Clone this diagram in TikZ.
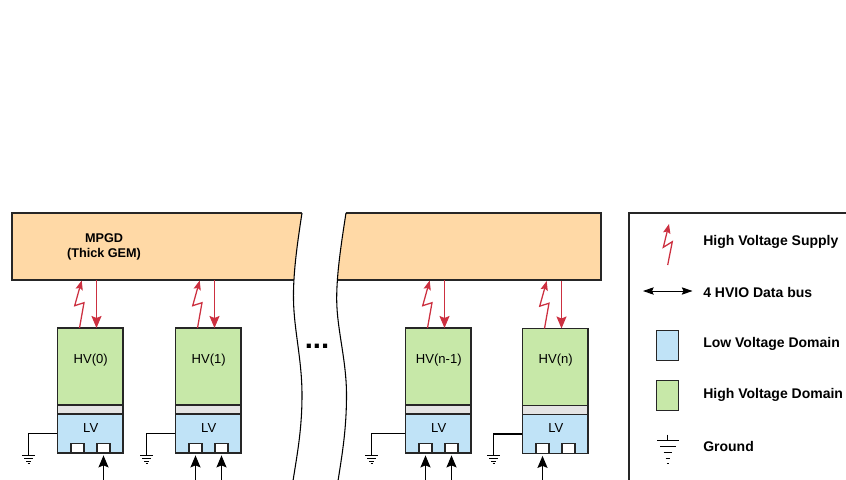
\documentclass[tikz,border=0pt]{standalone}
\usepackage{fontspec}
\setmainfont{Liberation Sans}
\usetikzlibrary{arrows.meta}
\definecolor{gemfill}{HTML}{FFD9A6}
\definecolor{hvfill}{HTML}{C7E8A8}
\definecolor{lvfill}{HTML}{C0E3F7}
\definecolor{sepfill}{HTML}{E4E4E4}
\definecolor{hvred}{HTML}{CC3040}
\tikzset{
  blockbox/.style={draw=black!85, line width=0.95pt, inner sep=0pt, font=\fontsize{9.8}{11}\selectfont},
  hvbox/.style={blockbox, fill=hvfill, minimum width=49pt, minimum height=57.7pt},
  sepbox/.style={blockbox, fill=sepfill, minimum width=49pt, minimum height=6.8pt},
  lvbox/.style={blockbox, fill=lvfill, minimum width=49pt, minimum height=29.2pt},
  portbox/.style={blockbox, fill=white, minimum width=9.8pt, minimum height=7.3pt},
  legendbox/.style={blockbox, minimum width=16.5pt, minimum height=22pt},
  legendtext/.style={font=\fontsize{10.5}{12}\selectfont\bfseries, anchor=west, inner sep=0pt},
  zapline/.style={hvred, line width=0.95pt, -{Stealth[length=7pt,width=5.5pt,inset=1.2pt]}},
  hvarrow/.style={hvred, line width=1.05pt, -{Stealth[length=9pt,width=7.5pt,inset=1.5pt]}},
  busarrow/.style={black, line width=1.05pt, -{Stealth[length=9pt,width=7.5pt,inset=1.5pt]}, shorten >=1.4pt},
  pics/gndsym/.style={code={
    \draw[line width=0.75pt] (-6.5,0) -- (6.5,0);
    \draw[line width=0.75pt] (-4.5,3) -- (4.5,3);
    \draw[line width=0.75pt] (-2.5,6) -- (2.5,6);
    \draw[line width=0.75pt] (-1,8.5) -- (1,8.5);
  }},
}
\begin{document}
\begin{tikzpicture}[x=0.75pt, y=-0.75pt]
  \useasboundingbox (0,0) rectangle (846,479);
  % MPGD block
  \node[blockbox, fill=gemfill, minimum width=441.75pt, minimum height=50.25pt] (mpgd) at (306.5,246.5) {};
  \node[font=\fontsize{9.5}{11.5}\selectfont\bfseries, align=center, inner sep=0pt] (mpgdlabel) at (104,247) {MPGD\\(Thick GEM)};
  % Channels
  \foreach \n/\xs/\ys/\lab in {0/0/0/HV(0), 1/118/0/HV(1), m/348/0/HV(n-1), k/465/0.5/HV(n)} {
    \begin{scope}[shift={(\xs,\ys)}]
      \node[hvbox] (hv\n) at (90.25,366.5) {};
      \node[inner sep=0pt, font=\fontsize{9.8}{11}\selectfont] (hvlabel\n) at (90.75,360) {\lab};
      \node[sepbox] (sep\n) at (90.25,409.5) {};
      \node[lvbox] (lv\n) at (90.25,433.5) {};
      \node[inner sep=0pt, font=\fontsize{9.8}{11}\selectfont] (lvlabel\n) at (90.75,427.5) {LV};
      \node[portbox] (porta\n) at (77.5,448) {};
      \node[portbox] (portb\n) at (103.5,448) {};
      % supply zigzag and return
      \coordinate (zapa\n) at (79.5,328);
      \coordinate (zapb\n) at (81.7,280.5);
      \coordinate (reta\n) at (96.5,280);
      \coordinate (retb\n) at (96.5,328);
      \draw[zapline] (zapa\n) -- (84,302.7) -- (74.7,305.7) -- (zapb\n);
      \draw[hvarrow] (reta\n) -- (retb\n);
    \end{scope}
  }
  % Ground wires
  \foreach \n/\gx in {0/28.5, 1/146.5, m/371.5, k/493.5} {
    \coordinate (gnd\n) at (\gx,455);
    \draw[line width=0.8pt] (lv\n.west) -| (gnd\n);
    \pic at (gnd\n) {gndsym};
  }
  % Data inputs
  \foreach \p in {portb0, porta1, portb1, portam, portbm, portak} {
    \coordinate (in\p) at (\p.south |- 0,481);
    \draw[busarrow] (in\p) -- (\p.south);
  }
  % Break in the block
  \fill[white] (302,212) .. controls (297,245) and (293,275) .. (293.5,300)
    .. controls (294,330) and (302,360) .. (302,395)
    .. controls (302,430) and (297,455) .. (293,481)
    -- (338,481) .. controls (342,455) and (346.5,430) .. (346.5,395)
    .. controls (346.5,360) and (337,330) .. (336.7,300)
    .. controls (336.5,275) and (341,245) .. (346,212) -- cycle;
  \draw[line width=0.8pt] (302,213) .. controls (297,245) and (293,275) .. (293.5,300)
    .. controls (294,330) and (302,360) .. (302,395)
    .. controls (302,430) and (297,455) .. (293,481);
  \draw[line width=0.8pt] (346,213) .. controls (341,245) and (336.5,275) .. (336.7,300)
    .. controls (337,330) and (346.5,360) .. (346.5,395)
    .. controls (346.5,430) and (342,455) .. (338,481);
  \node[font=\fontsize{22}{22}\selectfont\bfseries, inner sep=0pt, anchor=base] (dots) at (317,348) {...};
  % Legend
  \coordinate (legtr) at (848,213);
  \coordinate (legbl) at (629,481);
  \draw[line width=0.95pt, black!85] (legtr) -| (legbl);
  \coordinate (legzapa) at (667.7,265);
  \coordinate (legzapb) at (669,224);
  \draw[zapline] (legzapa) -- (672.3,241.7) -- (663.3,247.3) -- (legzapb);
  \coordinate (legbusa) at (643,291);
  \coordinate (legbusb) at (692.5,291);
  \draw[black, line width=0.7pt, {Stealth[length=8pt,width=5.5pt,inset=1.2pt]}-{Stealth[length=8pt,width=5.5pt,inset=1.2pt]}] (legbusa) -- (legbusb);
  \node[legendbox, fill=lvfill] (leglv) at (667.7,345.5) {};
  \node[legendbox, fill=hvfill] (leghv) at (667.7,395.5) {};
  % Ground symbol of the legend
  \coordinate (leggnda) at (667.7,434.5);
  \coordinate (leggndb) at (667.7,440);
  \draw[line width=0.75pt] (leggnda) -- (leggndb);
  \draw[line width=0.75pt] (657,440) -- (678.5,440);
  \draw[line width=0.75pt] (660,446) -- (675.5,446);
  \draw[line width=0.75pt] (663.5,452) -- (672,452);
  \draw[line width=0.75pt] (665.5,458) -- (670,458);
  \draw[line width=0.75pt] (666.8,463.5) -- (668.6,463.5);
  \node[legendtext] (legt1) at (703,241.5) {High Voltage Supply};
  \node[legendtext] (legt2) at (703,292.5) {4 HVIO Data bus};
  \node[legendtext] (legt3) at (703,343.5) {Low Voltage Domain};
  \node[legendtext] (legt4) at (703,395) {High Voltage Domain};
  \node[legendtext] (legt5) at (703,446.5) {Ground};
\end{tikzpicture}
\end{document}
